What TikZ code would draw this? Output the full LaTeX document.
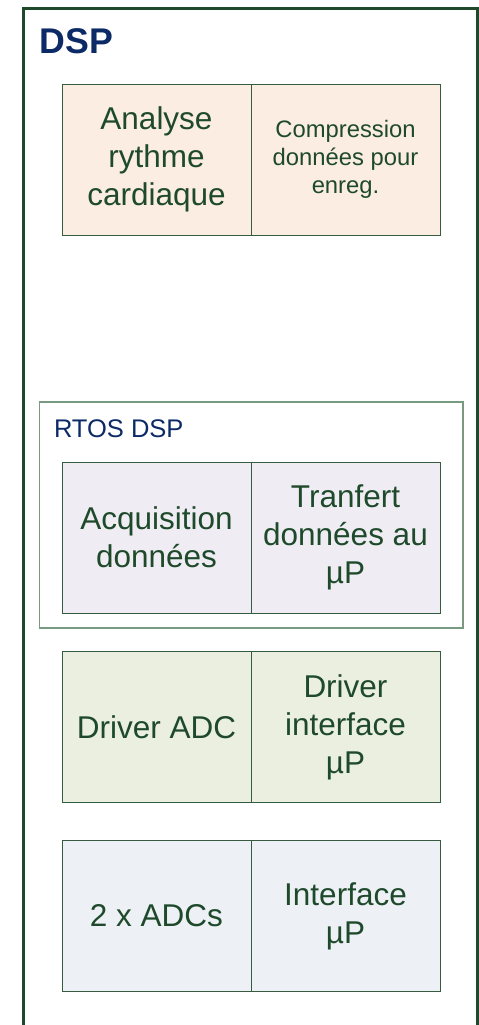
\documentclass[tikz,border=0pt]{standalone}
\usepackage{fontspec}
\setmainfont{Liberation Sans}
\usepackage{tikz}
\usepackage{xcolor}

\definecolor{vertfonce}{HTML}{1E4A2B}
\definecolor{vertgris}{HTML}{789A80}
\definecolor{marine}{HTML}{0C2A66}
\definecolor{peche}{HTML}{FBEDE2}
\definecolor{lavande}{HTML}{EFEDF3}
\definecolor{vertpale}{HTML}{EBEFDF}
\definecolor{bleupale}{HTML}{EDF0F5}

\tikzset{
  cellule/.style={draw=vertfonce!90, line width=1pt, minimum width=189pt, minimum height=151pt,
    inner sep=0pt, align=center, text=vertfonce, font=\fontsize{31.5}{38}\selectfont},
  petit/.style={font=\fontsize{23.8}{28}\selectfont}
}

\begin{document}
\begin{tikzpicture}[x=1pt,y=-1pt]
	  \useasboundingbox(0, 0) rectangle (479, 1025);
	  \draw[vertfonce, line width=3pt](23.5, 1030) -- (23.5, 9) -- (477, 9) -- (477, 1030);
	  \draw(36, 53.3) node[anchor=base west, text=marine, font=\bfseries\fontsize{35.7}{40}\selectfont](titre) {DSP};
	  % applications
	  \draw(156.5, 159.5) node[cellule, fill=peche](analyse) {Analyse\\rythme\\cardiaque};
	  \draw(345.5, 159.5) node[cellule, fill=peche, petit](compression) {Compression\\donn\'ees pour\\enreg.};
	  % noyau temps reel
	  \draw(251.2, 515) node[draw=vertgris, line width=1.2pt, minimum width=423.7pt, minimum height=226pt, inner sep=0pt](rtos) {};
	  \draw(50.5, 437) node[anchor=base west, text=marine, font=\fontsize{25.5}{30}\selectfont](rtostitre) {RTOS DSP};
	  \draw(156.5, 537.5) node[cellule, fill=lavande](acquisition) {Acquisition\\donn\'ees};
	  \draw(345.5, 537.5) node[cellule, fill=lavande](transfert) {Tranfert\\donn\'ees au\\µP};
	  % pilotes
	  \draw(156.5, 727) node[cellule, fill=vertpale](driveradc) {Driver ADC};
	  \draw(345.5, 727) node[cellule, fill=vertpale](driverup) {Driver\\interface\\µP};
	  % materiel
	  \draw(156.5, 916) node[cellule, fill=bleupale](adcs) {2 x ADCs};
	  \draw(345.5, 916) node[cellule, fill=bleupale](interface) {Interface\\µP};
	\end{tikzpicture}
\end{document}
